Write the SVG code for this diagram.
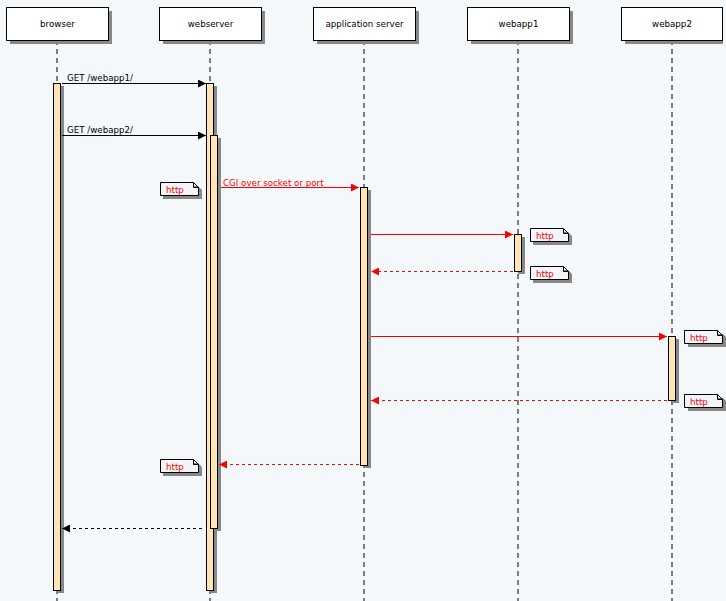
<svg xmlns="http://www.w3.org/2000/svg" width="726" height="601" viewBox="0 0 726 601">
<defs>
<marker id="ab" viewBox="0 0 10 10" refX="10" refY="5" markerWidth="8" markerHeight="8" markerUnits="userSpaceOnUse" orient="auto"><path d="M0,0 L10,5 L0,10 z" fill="#000"/></marker>
<marker id="ar" viewBox="0 0 10 10" refX="10" refY="5" markerWidth="8" markerHeight="8" markerUnits="userSpaceOnUse" orient="auto"><path d="M0,0 L10,5 L0,10 z" fill="#f00"/></marker>
</defs>
<style>
text{font-family:"DejaVu Sans",Verdana,sans-serif;font-size:8.7px;fill:#000}
.box{fill:#fff;stroke:#000;stroke-width:1}
.sh{fill:#888}
.life{stroke:#000;stroke-width:1;stroke-dasharray:5,4;fill:none}
.act{fill:#ffe4b5;stroke:#000;stroke-width:1}
.m{stroke:#000;stroke-width:1;fill:none}
.r{stroke:#f00;stroke-width:1;fill:none}
.d{stroke-dasharray:3,3}
.note{fill:#f3f5f8;stroke:#000;stroke-width:1}
.nt{fill:#f00}
.lab{fill:#000}
.rl{fill:#f00}
</style>
<rect width="726" height="601" fill="#f5f8fb"/>
<g id="lifelines">
<line class="life" x1="57" y1="40" x2="57" y2="601"/>
<line class="life" x1="210" y1="40" x2="210" y2="601"/>
<line class="life" x1="364" y1="40" x2="364" y2="601"/>
<line class="life" x1="518" y1="40" x2="518" y2="601"/>
<line class="life" x1="672" y1="40" x2="672" y2="601"/>
</g>
<g id="browser"><rect class="sh" x="10" y="11" width="102" height="33"/><rect class="box" x="6.5" y="7.5" width="102" height="33"/><text x="57.5" y="27" text-anchor="middle">browser</text></g>
<g id="webserver"><rect class="sh" x="163" y="11" width="102" height="33"/><rect class="box" x="159.5" y="7.5" width="102" height="33"/><text x="210.5" y="27" text-anchor="middle">webserver</text></g>
<g id="appserver"><rect class="sh" x="317" y="11" width="102" height="33"/><rect class="box" x="313.5" y="7.5" width="102" height="33"/><text x="364.5" y="27" text-anchor="middle">application server</text></g>
<g id="webapp1"><rect class="sh" x="471" y="11" width="102" height="33"/><rect class="box" x="467.5" y="7.5" width="102" height="33"/><text x="518.5" y="27" text-anchor="middle">webapp1</text></g>
<g id="webapp2"><rect class="sh" x="625" y="11" width="98" height="33"/><rect class="box" x="621.5" y="7.5" width="101" height="33"/><text x="672" y="27" text-anchor="middle">webapp2</text></g>
<g id="activations">
<rect class="sh" x="57" y="86" width="7" height="507"/><rect class="act" x="53.5" y="83.5" width="7" height="507"/>
<rect class="sh" x="210" y="86" width="7" height="507"/><rect class="act" x="206.5" y="83.5" width="7" height="507"/>
<rect class="sh" x="214" y="138" width="7" height="393"/><rect class="act" x="210.5" y="135.5" width="7" height="393"/>
<rect class="sh" x="364" y="190" width="7" height="278"/><rect class="act" x="360.5" y="187.5" width="7" height="278"/>
<rect class="sh" x="518" y="237" width="7" height="37"/><rect class="act" x="514.5" y="234.5" width="7" height="37"/>
<rect class="sh" x="672" y="339" width="7" height="64"/><rect class="act" x="668.5" y="336.5" width="7" height="64"/>
</g>
<g id="connectors">
<line class="m" x1="62" y1="83.5" x2="206" y2="83.5" marker-end="url(#ab)"/>
<text x="67" y="81">GET /webapp1/</text>
<line class="m" x1="62" y1="135.5" x2="206" y2="135.5" marker-end="url(#ab)"/>
<text x="67" y="133">GET /webapp2/</text>
<line class="r" x1="221" y1="187.5" x2="359" y2="187.5" marker-end="url(#ar)"/>
<text class="rl" x="223" y="185.5">CGI over socket or port</text>
<line class="r" x1="371" y1="234.5" x2="513" y2="234.5" marker-end="url(#ar)"/>
<line class="r d" x1="513" y1="271.5" x2="371" y2="271.5" marker-end="url(#ar)"/>
<line class="r" x1="371" y1="336.5" x2="667" y2="336.5" marker-end="url(#ar)"/>
<line class="r d" x1="667" y1="400.5" x2="371" y2="400.5" marker-end="url(#ar)"/>
<line class="r d" x1="359" y1="464.5" x2="219" y2="464.5" marker-end="url(#ar)"/>
<line class="m d" x1="202" y1="528.5" x2="62" y2="528.5" marker-end="url(#ab)"/>
</g>
<g id="note1"><path class="sh" d="M163,186 h35 l4,4 v9 h-39 z"/><path class="note" d="M160.5,182.5 h33 l5,5 v8 h-38 z M193.5,182.5 v5 h5" /><text class="nt" x="166" y="192.5">http</text></g>
<g id="note2"><path class="sh" d="M533,232 h35 l4,4 v9 h-39 z"/><path class="note" d="M530.5,228.5 h33 l5,5 v8 h-38 z M563.5,228.5 v5 h5"/><text class="nt" x="536" y="238.5">http</text></g>
<g id="note3"><path class="sh" d="M533,270 h35 l4,4 v9 h-39 z"/><path class="note" d="M530.5,266.5 h33 l5,5 v8 h-38 z M563.5,266.5 v5 h5"/><text class="nt" x="536" y="276.5">http</text></g>
<g id="note4"><path class="sh" d="M688,334 h35 l3,3 v10 h-38 z"/><path class="note" d="M684.5,330.5 h33 l5,5 v8 h-38 z M717.5,330.5 v5 h5"/><text class="nt" x="690" y="340.5">http</text></g>
<g id="note5"><path class="sh" d="M688,398 h35 l3,3 v10 h-38 z"/><path class="note" d="M684.5,394.5 h33 l5,5 v8 h-38 z M717.5,394.5 v5 h5"/><text class="nt" x="690" y="404.5">http</text></g>
<g id="note6"><path class="sh" d="M163,463 h35 l4,4 v9 h-39 z"/><path class="note" d="M160.5,459.5 h33 l5,5 v8 h-38 z M193.5,459.5 v5 h5"/><text class="nt" x="166" y="469.5">http</text></g>
</svg>
